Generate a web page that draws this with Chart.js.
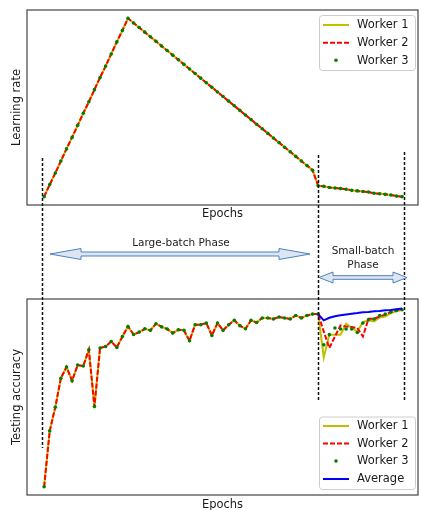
<!DOCTYPE html>
<html>
<head>
<meta charset="utf-8">
<script src="https://cdn.jsdelivr.net/npm/chart.js@4.4.1/dist/chart.umd.min.js"></script>
<style>
  body { margin: 0; background: #fff; }
  #wrap { position: relative; width: 422px; height: 510px; }
  canvas { position: absolute; left: 0; }
  #lrChart { top: 0; }
  #accChart { top: 292px; }
</style>
</head>
<body>
<div id="wrap">
  <canvas id="lrChart" width="422" height="292"></canvas>
  <canvas id="accChart" width="422" height="218"></canvas>
</div>
<script>
// ===== data =====
const epochs = [0,1,2,3,4,5,6,7,8,9,10,11,12,13,14,15,16,17,18,19,20,21,22,23,24,25,26,27,28,29,30,31,32,
  33,34,35,36,37,38,39,40,41,42,43,44,45,46,47,48,49,50,51,52,53,54,55,56,57,58,59,60,61,62,63,64];

// learning rate, same for all three workers
const learningRate = [0.10,0.31,0.51,0.72,0.93,1.13,1.34,1.55,1.75,1.96,2.17,2.37,2.58,2.79,2.99,3.20,
  3.12,3.04,2.96,2.88,2.80,2.72,2.64,2.56,2.48,2.40,2.32,2.24,2.16,2.08,2.00,1.92,1.84,1.76,1.68,1.60,
  1.52,1.44,1.36,1.28,1.20,1.12,1.04,0.96,0.88,0.80,0.72,0.64,0.56,
  0.29,0.28,0.26,0.25,0.24,0.23,0.21,0.20,0.19,0.18,0.16,0.15,0.14,0.13,0.11,0.10];

// testing accuracy, large-batch phase (epochs 0-49), shared by workers
const accLargeBatch = [4.2,32.7,44.8,59.6,65.3,58.3,66.3,65.8,74.1,45.1,75.0,75.8,78.3,75.3,80.9,86.0,
  81.9,83.1,84.8,84.0,87.4,85.8,84.7,82.6,84.3,84.0,78.7,86.9,86.9,87.7,81.4,87.7,84.0,86.9,89.1,86.4,
  84.8,89.1,88.0,90.3,90.3,89.8,90.8,90.3,89.8,91.6,90.3,91.6,92.3,92.3];
// small-batch phase (epochs 50-64)
const accSmallW1 = [70.2,81.8,81.8,81.8,87.4,85.2,83.4,88.2,89.1,88.6,90.6,91.1,92.8,93.7,94.5];
const accSmallW2 = [83.4,75.0,80.9,86.5,86.0,85.7,85.2,80.9,89.9,89.9,91.1,92.0,93.4,94.2,94.5];
const accSmallW3 = [76.6,81.8,85.2,84.7,84.7,84.7,82.9,87.7,89.4,89.8,91.6,92.3,93.4,94.2,94.5];
// average, epochs 49-64
const accAverage = [92.3,89.1,90.4,91.2,91.7,92.1,92.5,92.8,93.2,93.4,93.7,93.9,94.2,94.4,94.8,95.2];

// phase boundaries (epoch positions of the dotted lines)
const phaseBounds = [-0.4, 48.9, 64.35];

const X_MIN = -3.06, X_MAX = 66.85;
const FONT = "'DejaVu Sans', sans-serif";
const TEXT = "#1a1a1a";

// ===== helpers =====
function drawFrame(ctx, a) {
  ctx.save();
  ctx.strokeStyle = "#444";
  ctx.lineWidth = 1.2;
  ctx.strokeRect(a.left, a.top, a.right - a.left, a.bottom - a.top);
  ctx.restore();
}

function drawTitles(ctx, a, yTitle, xTitleY) {
  ctx.save();
  ctx.font = "11.5px " + FONT;
  ctx.fillStyle = TEXT;
  ctx.textAlign = "center";
  ctx.textBaseline = "middle";
  ctx.fillText("Epochs", (a.left + a.right) / 2, xTitleY);
  ctx.translate(17, (a.top + a.bottom) / 2);
  ctx.rotate(-Math.PI / 2);
  ctx.fillText(yTitle, 0, 0);
  ctx.restore();
}

function drawPhaseLines(chart, ranges) {
  const ctx = chart.ctx, xs = chart.scales.x;
  ctx.save();
  ctx.strokeStyle = "#111";
  ctx.lineWidth = 1.5;
  ctx.setLineDash([3, 2]);
  phaseBounds.forEach((b, i) => {
    const x = Math.round(xs.getPixelForValue(b)) + 0.5;
    ctx.beginPath();
    ctx.moveTo(x, ranges[i][0]);
    ctx.lineTo(x, ranges[i][1]);
    ctx.stroke();
  });
  ctx.restore();
}

function drawLegend(ctx, items, box, rows) {
  ctx.save();
  ctx.fillStyle = "rgba(255,255,255,0.85)";
  ctx.strokeStyle = "#cccccc";
  ctx.lineWidth = 1;
  ctx.beginPath();
  ctx.roundRect(box[0], box[1], box[2], box[3], 3);
  ctx.fill();
  ctx.stroke();
  ctx.font = "11.5px " + FONT;
  ctx.textBaseline = "middle";
  items.forEach((it, i) => {
    const y = rows[i];
    if (it.dot) {
      ctx.fillStyle = it.color;
      ctx.beginPath();
      ctx.arc(336, y, 1.8, 0, Math.PI * 2);
      ctx.fill();
    } else {
      ctx.strokeStyle = it.color;
      ctx.lineWidth = 2;
      ctx.setLineDash(it.dash || []);
      ctx.beginPath();
      ctx.moveTo(323, y);
      ctx.lineTo(349, y);
      ctx.stroke();
      ctx.setLineDash([]);
    }
    ctx.fillStyle = TEXT;
    ctx.fillText(it.label, 357, y + 0.5);
  });
  ctx.restore();
}

function drawArrow(ctx, x1, x2, yc, headLen, headHalf, shaftHalf) {
  ctx.save();
  ctx.beginPath();
  ctx.moveTo(x1, yc);
  ctx.lineTo(x1 + headLen, yc - headHalf);
  ctx.lineTo(x1 + headLen, yc - shaftHalf);
  ctx.lineTo(x2 - headLen, yc - shaftHalf);
  ctx.lineTo(x2 - headLen, yc - headHalf);
  ctx.lineTo(x2, yc);
  ctx.lineTo(x2 - headLen, yc + headHalf);
  ctx.lineTo(x2 - headLen, yc + shaftHalf);
  ctx.lineTo(x1 + headLen, yc + shaftHalf);
  ctx.lineTo(x1 + headLen, yc + headHalf);
  ctx.closePath();
  ctx.fillStyle = "#dce6f2";
  ctx.fill();
  ctx.strokeStyle = "#4f81bd";
  ctx.lineWidth = 1;
  ctx.stroke();
  ctx.restore();
}

const workerLegend = [
  { label: "Worker 1", color: "#bfbf00" },
  { label: "Worker 2", color: "#ff0000", dash: [5, 2] },
  { label: "Worker 3", color: "#008000", dot: true }
];

function baseOptions(padding, yMin, yMax) {
  return {
    responsive: false,
    animation: false,
    devicePixelRatio: 1,
    layout: { padding: padding },
    scales: {
      x: { type: "linear", display: false, min: X_MIN, max: X_MAX },
      y: { display: false, min: yMin, max: yMax }
    },
    plugins: { legend: { display: false }, tooltip: { enabled: false } },
    elements: { line: { tension: 0 } }
  };
}

function workerSets(w1, w2, w3) {
  return [
    { label: "Worker 1", data: w1, borderColor: "#bfbf00", borderWidth: 2, pointRadius: 0, order: 3 },
    { label: "Worker 2", data: w2, borderColor: "#ff0000", borderWidth: 2, borderDash: [5, 2], pointRadius: 0, order: 2 },
    { label: "Worker 3", data: w3, showLine: false, pointRadius: 1.8, pointBorderWidth: 0,
      pointBackgroundColor: "#008000", borderColor: "#008000", order: 1 }
  ];
}

/* ===== LEARNING RATE ===== */
new Chart(document.getElementById("lrChart"), {
  type: "line",
  data: {
    labels: epochs,
    datasets: workerSets(learningRate, learningRate, learningRate)
  },
  options: baseOptions({ left: 27, top: 10, right: 2, bottom: 87 }, -0.045, 3.345),
  plugins: [{
    id: "lrDecor",
    afterDraw(chart) {
      const ctx = chart.ctx, a = chart.chartArea;
      drawFrame(ctx, a);
      drawTitles(ctx, a, "Learning rate", 214);
      drawPhaseLines(chart, [[158, 292], [155, 292], [152, 292]]);
      drawLegend(ctx, workerLegend, [319.5, 15.5, 96, 55], [25, 42.7, 60.2]);

      // phase arrows
      drawArrow(ctx, 50, 310, 254, 31, 5.5, 2);
      drawArrow(ctx, 319, 407, 277.5, 14, 5.5, 1.8);
      ctx.save();
      ctx.font = "10.5px " + FONT;
      ctx.fillStyle = "#222";
      ctx.textAlign = "center";
      ctx.textBaseline = "middle";
      ctx.fillText("Large-batch Phase", 181, 243);
      ctx.fillText("Small-batch", 363, 251);
      ctx.fillText("Phase", 363, 265);
      ctx.restore();
    }
  }]
});

/* ===== TESTING ACCURACY ===== */
const accW1 = accLargeBatch.concat(accSmallW1);
const accW2 = accLargeBatch.concat(accSmallW2);
const accW3 = accLargeBatch.concat(accSmallW3);
const accAvg = new Array(epochs.length - accAverage.length).fill(null).concat(accAverage);

const accSets = workerSets(accW1, accW2, accW3);
accSets.push({ label: "Average", data: accAvg, borderColor: "#0000ff", borderWidth: 2, pointRadius: 0, order: 0 });

new Chart(document.getElementById("accChart"), {
  type: "line",
  data: { labels: epochs, datasets: accSets },
  options: baseOptions({ left: 27, top: 7, right: 2, bottom: 15 }, 0, 100),
  plugins: [{
    id: "accDecor",
    afterDraw(chart) {
      const ctx = chart.ctx, a = chart.chartArea;
      drawFrame(ctx, a);
      drawTitles(ctx, a, "Testing accuracy", 213);
      drawPhaseLines(chart, [[0, 156], [0, 108], [0, 108]]);
      drawLegend(ctx, workerLegend.concat([{ label: "Average", color: "#0000ff" }]),
        [319.5, 125, 96, 72.5], [134, 151.5, 169, 187]);
    }
  }]
});
</script>
</body>
</html>
